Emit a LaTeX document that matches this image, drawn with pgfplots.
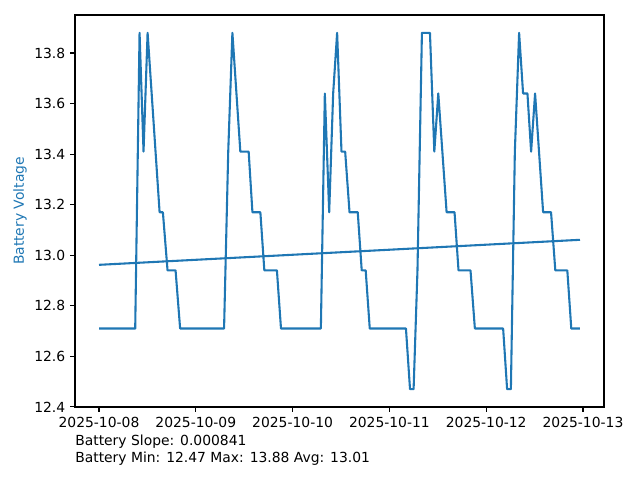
\documentclass[border=0pt]{standalone}
\usepackage{fontspec}
\setmainfont{DejaVu Sans}
\usepackage{pgfplots}
\pgfplotsset{compat=1.18}
\definecolor{mplblue}{HTML}{1F77B4}
\begin{document}
\begin{tikzpicture}
\begin{axis}[
  scale only axis,
  width=380.88pt, height=282.24pt,
  xmin=-0.248, xmax=5.217,
  ymin=12.3995, ymax=13.9505,
  xtick={0,1,2,3,4,5},
  xticklabels={2025-10-08,2025-10-09,2025-10-10,2025-10-11,2025-10-12,2025-10-13},
  ytick={12.4,12.6,12.8,13.0,13.2,13.4,13.6,13.8},
  yticklabel style={/pgf/number format/fixed,/pgf/number format/fixed zerofill,/pgf/number format/precision=1},
  /pgf/number format/assume math mode=true,
  tick align=outside,
  major tick length=3.5pt,
  tick style={line width=0.8pt, black},
  xtick pos=bottom, ytick pos=left,
  axis line style={line width=0.8pt},
  ylabel={Battery Voltage},
  ylabel style={text=mplblue, at={(axis description cs:-0.104,0.5)}, anchor=center},
  tick label style={font=\fontsize{10}{12}\selectfont},
  label style={font=\fontsize{10}{12}\selectfont},
  clip=false,
]
\addplot[mplblue, line width=1.5pt, line join=round] coordinates {
(0,12.71) (0.374,12.71) (0.419,13.88) (0.460,13.41) (0.502,13.88) (0.626,13.17) (0.66,13.17) (0.708,12.94) (0.791,12.94) (0.838,12.71)
(1.292,12.71) (1.335,13.41) (1.378,13.88) (1.46,13.41) (1.546,13.41) (1.585,13.17) (1.667,13.17) (1.708,12.94) (1.838,12.94) (1.88,12.71)
(2.292,12.71) (2.333,13.64) (2.378,13.17) (2.419,13.64) (2.46,13.88) (2.505,13.41) (2.543,13.41) (2.588,13.17) (2.673,13.17) (2.714,12.94) (2.755,12.94) (2.797,12.71)
(3.171,12.71) (3.213,12.47) (3.25,12.47) (3.29,12.94) (3.336,13.88) (3.419,13.88) (3.464,13.41) (3.505,13.64) (3.591,13.17) (3.673,13.17) (3.714,12.94) (3.838,12.94) (3.883,12.71)
(4.175,12.71) (4.216,12.47) (4.255,12.47) (4.296,13.41) (4.34,13.88) (4.381,13.64) (4.426,13.64) (4.464,13.41) (4.505,13.64) (4.588,13.17) (4.67,13.17) (4.714,12.94) (4.838,12.94) (4.879,12.71) (4.969,12.71)
};
\addplot[mplblue, line width=1.5pt] coordinates {(0,12.962) (4.969,13.061)};
\end{axis}
\path (current axis.south west) ++(-54pt,-52.56pt) rectangle ++(460.8pt,345.6pt);
\node[anchor=base west, inner sep=0pt, font=\fontsize{10}{12}\selectfont] at ([yshift=-28.08pt]current axis.south west) {Battery Slope: 0.000841};
\node[anchor=base west, inner sep=0pt, font=\fontsize{10}{12}\selectfont] at ([yshift=-39.6pt]current axis.south west) {Battery Min: 12.47 Max: 13.88 Avg: 13.01};
\end{tikzpicture}
\end{document}
